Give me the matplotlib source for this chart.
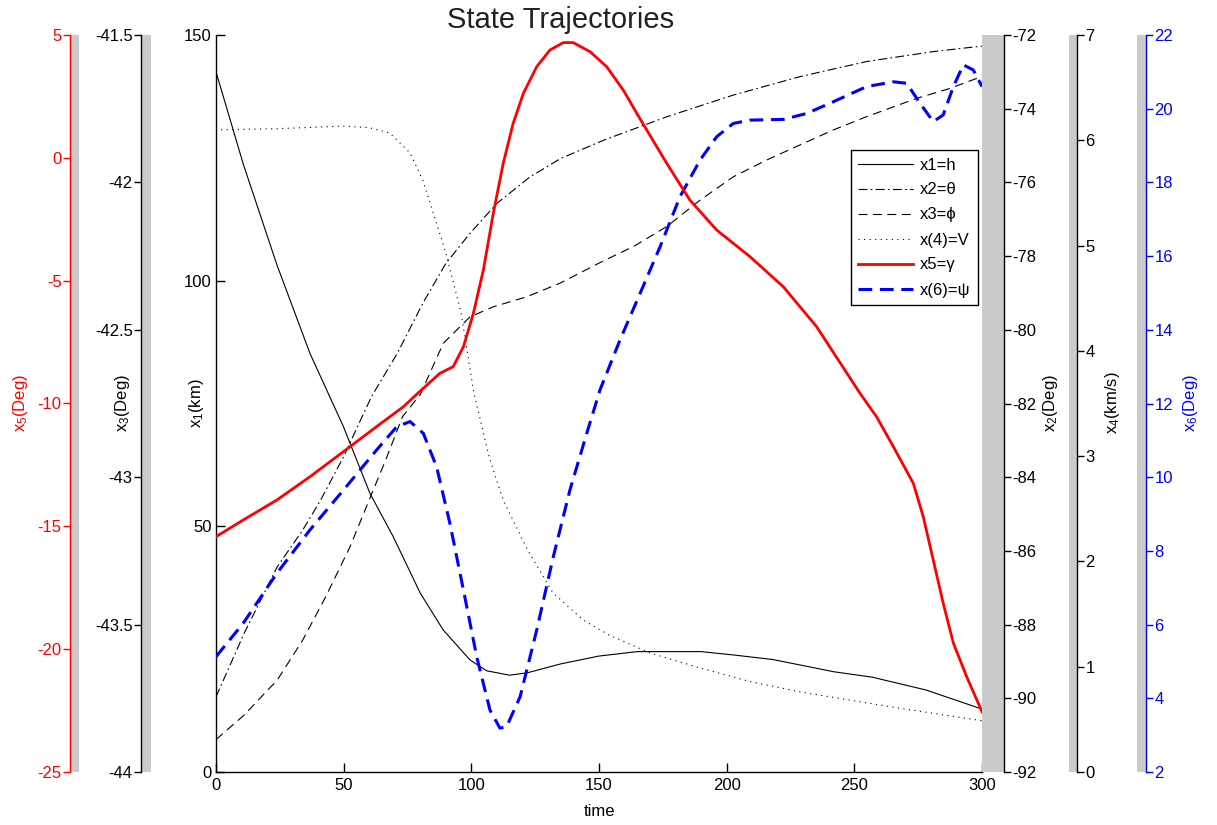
import matplotlib
matplotlib.use('Agg')
import matplotlib.pyplot as plt
from matplotlib.ticker import FormatStrFormatter

plt.rcParams['font.family'] = ['Liberation Sans', 'DejaVu Sans']
plt.rcParams['mathtext.fontset'] = 'custom'
plt.rcParams['mathtext.rm'] = 'Liberation Sans'
plt.rcParams['mathtext.default'] = 'rm'
plt.rcParams['axes.unicode_minus'] = False

# ---- data ----
t_x1 = [0, 10.7, 23.8, 36.8, 49.9, 60.3, 69.4, 80, 89, 99.5, 106, 115, 122,
        135, 150, 165, 190, 203, 218, 242, 257, 278, 300]
x1 = [142.5, 123.7, 103.3, 85.2, 70.3, 56.7, 47.9, 36.4, 28.9, 22.8, 20.6,
      19.7, 20.2, 22.0, 23.6, 24.5, 24.5, 23.8, 22.9, 20.4, 19.3, 16.7, 12.8]

t_x2 = [0, 11, 24, 34, 41, 50, 56, 61, 71, 81, 90, 99.5, 110, 123, 135, 152,
        176.5, 202.6, 228.7, 254.8, 281, 300]
x2 = [-89.96, -88.24, -86.43, -85.43, -84.62, -83.44, -82.54, -81.8, -80.64,
      -79.28, -78.20, -77.38, -76.57, -75.85, -75.35, -74.85, -74.22, -73.63,
      -73.13, -72.72, -72.45, -72.30]

t_x3 = [0, 11, 24, 34, 43, 52.5, 60, 67, 73, 80, 89, 99.5, 108.6, 121.7,
        134.7, 152, 163.4, 176.5, 189.6, 202.6, 215.7, 228.7, 241.8, 254.8,
        274.4, 287.5, 298, 300]
x3 = [-43.89, -43.807, -43.688, -43.552, -43.405, -43.236, -43.077, -42.930,
      -42.795, -42.72, -42.546, -42.456, -42.422, -42.388, -42.342, -42.265,
      -42.218, -42.150, -42.060, -41.981, -41.924, -41.873, -41.822, -41.777,
      -41.715, -41.681, -41.647, -41.664]

t_x4 = [2, 24, 50, 60, 68, 76, 81, 86, 90, 96, 101, 107, 112.5, 122, 132,
        144, 154, 170, 190, 209, 229, 248, 268, 300]
x4 = [6.10, 6.11, 6.135, 6.12, 6.07, 5.88, 5.62, 5.24, 4.93, 4.36, 3.60, 2.99,
      2.58, 2.11, 1.70, 1.44, 1.30, 1.13, 0.985, 0.86, 0.76, 0.684, 0.605,
      0.487]

t_x5 = [0, 10.7, 23.8, 36.8, 49.9, 62.9, 73.4, 79.9, 87.7, 92.9, 96.9, 100.8,
        104.7, 108.6, 112.5, 116.4, 120.4, 125.6, 130.8, 136, 139.9, 146.5,
        153, 159.5, 164.8, 176.5, 185.6, 196.1, 209.1, 222.2, 235.2, 252,
        258.7, 265.3, 273.1, 277, 280.9, 284.8, 288.8, 294, 300]
x5 = [-15.42, -14.74, -13.93, -12.98, -11.96, -10.94, -10.13, -9.5, -8.77,
      -8.50, -7.69, -6.33, -4.57, -2.26, -0.22, 1.41, 2.63, 3.71, 4.39, 4.69,
      4.69, 4.32, 3.71, 2.76, 1.81, -0.22, -1.72, -2.94, -4.02, -5.25, -6.87,
      -9.55, -10.54, -11.76, -13.25, -14.61, -16.37, -18.13, -19.76, -21.12,
      -22.55]

t_x6 = [0, 10.7, 23.8, 36.8, 49.9, 62.9, 70.8, 76, 81.2, 86.4, 91.6, 96.9,
        102.1, 107.3, 111.2, 113.8, 119.1, 125.6, 132.1, 138.6, 145.2, 150.4,
        158.2, 166.1, 173.9, 181.7, 189.6, 196.1, 202.6, 209.1, 222.2, 231.3,
        241.8, 254.8, 265.3, 270.5, 275.7, 280.9, 284.8, 288.8, 292.7, 296.6,
        300]
x6 = [5.13, 6.04, 7.39, 8.57, 9.65, 10.74, 11.37, 11.51, 11.19, 10.28, 8.75,
      6.94, 5.13, 3.68, 3.19, 3.23, 4.04, 5.85, 7.84, 9.65, 11.19, 12.37,
      13.72, 14.99, 16.25, 17.61, 18.61, 19.24, 19.60, 19.69, 19.71, 19.87,
      20.19, 20.60, 20.73, 20.69, 20.15, 19.65, 19.83, 20.60, 21.19, 21.05,
      20.60]

legend_labels = ['x1=h', 'x2=\u03b8', 'x3=\u03d5', 'x(4)=V', 'x5=\u03b3', 'x(6)=\u03c8']

W, H = 1217, 825
fig = plt.figure(figsize=(W / 100, H / 100), dpi=100)
GRAY = '#cbcbcb'
FS = 12


def rect(px0, px1):
    # axes box spanning the same vertical extent as the main plot
    return [px0 / W, 1 - 772 / H, (px1 - px0) / W, 737 / H]


# main axes (x1)
ax = fig.add_axes(rect(216, 982))
ax.set_xlim(0, 300)
ax.set_ylim(0, 150)
ax.set_xticks(range(0, 301, 50))
ax.set_yticks([0, 50, 100, 150])
ax.spines['top'].set_visible(False)
ax.spines['right'].set_visible(False)
for s in ['left', 'bottom']:
    ax.spines[s].set_linewidth(1.0)
ax.tick_params(direction='in', length=6.5, width=1.0, labelsize=FS, pad=4)
ax.tick_params(axis='y', pad=3)
l1, = ax.plot(t_x1, x1, color='black', lw=0.8, ls='-')


def strip(px0, px1, side, lo, hi, ticks, color):
    s = fig.add_axes(rect(px0, px1))
    s.set_facecolor(GRAY)
    s.set_xticks([])
    s.set_ylim(lo, hi)
    s.set_yticks(ticks)
    s.yaxis.set_major_formatter(FormatStrFormatter('%g'))
    for k in s.spines:
        s.spines[k].set_visible(False)
    s.spines[side].set_visible(True)
    s.spines[side].set_color(color)
    s.spines[side].set_linewidth(1.0)
    if side == 'right':
        s.yaxis.tick_right()
    s.tick_params(axis='y', direction='out', length=5, width=1.0,
                  colors=color, labelsize=FS, pad=1)
    return s


def overlay(lo, hi):
    o = fig.add_axes(rect(216, 982))
    o.set_xlim(0, 300)
    o.set_ylim(lo, hi)
    o.set_facecolor('none')
    o.axis('off')
    return o


strip(70, 79, 'left', -25, 5, range(-25, 6, 5), 'red')
strip(141, 151, 'left', -44, -41.5, [-44, -43.5, -43, -42.5, -42, -41.5], 'black')
strip(982, 1004, 'right', -92, -72, range(-92, -71, 2), 'black')
strip(1069, 1077, 'right', 0, 7, range(0, 8), 'black')
strip(1137, 1146, 'right', 2, 22, range(2, 23, 2), 'blue')

o2 = overlay(-92, -72)
l2, = o2.plot(t_x2, x2, color='black', lw=0.8, ls=(0, (8, 3, 1.5, 3)))
o3 = overlay(-44, -41.5)
l3, = o3.plot(t_x3, x3, color='black', lw=0.8, ls=(0, (8, 5)))
o4 = overlay(0, 7)
l4, = o4.plot(t_x4, x4, color='black', lw=0.8, ls=(0, (1, 4)))
o6 = overlay(2, 22)
l6, = o6.plot(t_x6, x6, color='blue', lw=2.2, ls=(0, (4.5, 2.5)))
o5 = overlay(-25, 5)
l5, = o5.plot(t_x5, x5, color='red', lw=2.0, ls='-')

leg = o5.legend([l1, l2, l3, l4, l5, l6], legend_labels,
                loc='upper right', bbox_to_anchor=(978 / W, 1 - 150 / H),
                bbox_transform=fig.transFigure, borderaxespad=0,
                fancybox=False, framealpha=1, edgecolor='black',
                fontsize=FS, handlelength=3.3, labelspacing=0.6,
                handletextpad=0.4, borderpad=0.45)
leg.get_frame().set_linewidth(1.0)

# titles and axis labels
fig.text(561 / W, 1 - 28 / H, 'State Trajectories', ha='center', va='baseline',
         fontsize=21, color='#222222')
fig.text(599 / W, 1 - 811 / H, 'time', ha='center', va='center', fontsize=FS)
ylabels = [(20, 'x$_5$(Deg)', 'red'), (122, 'x$_3$(Deg)', 'black'),
           (197, 'x$_1$(km)', 'black'), (1050, 'x$_2$(Deg)', 'black'),
           (1113, 'x$_4$(km/s)', 'black'), (1190, 'x$_6$(Deg)', 'blue')]
for px, txt, col in ylabels:
    fig.text(px / W, 1 - 403 / H, txt, rotation=90, ha='center', va='center',
             fontsize=FS, color=col)

fig.savefig('out.png', dpi=100)
